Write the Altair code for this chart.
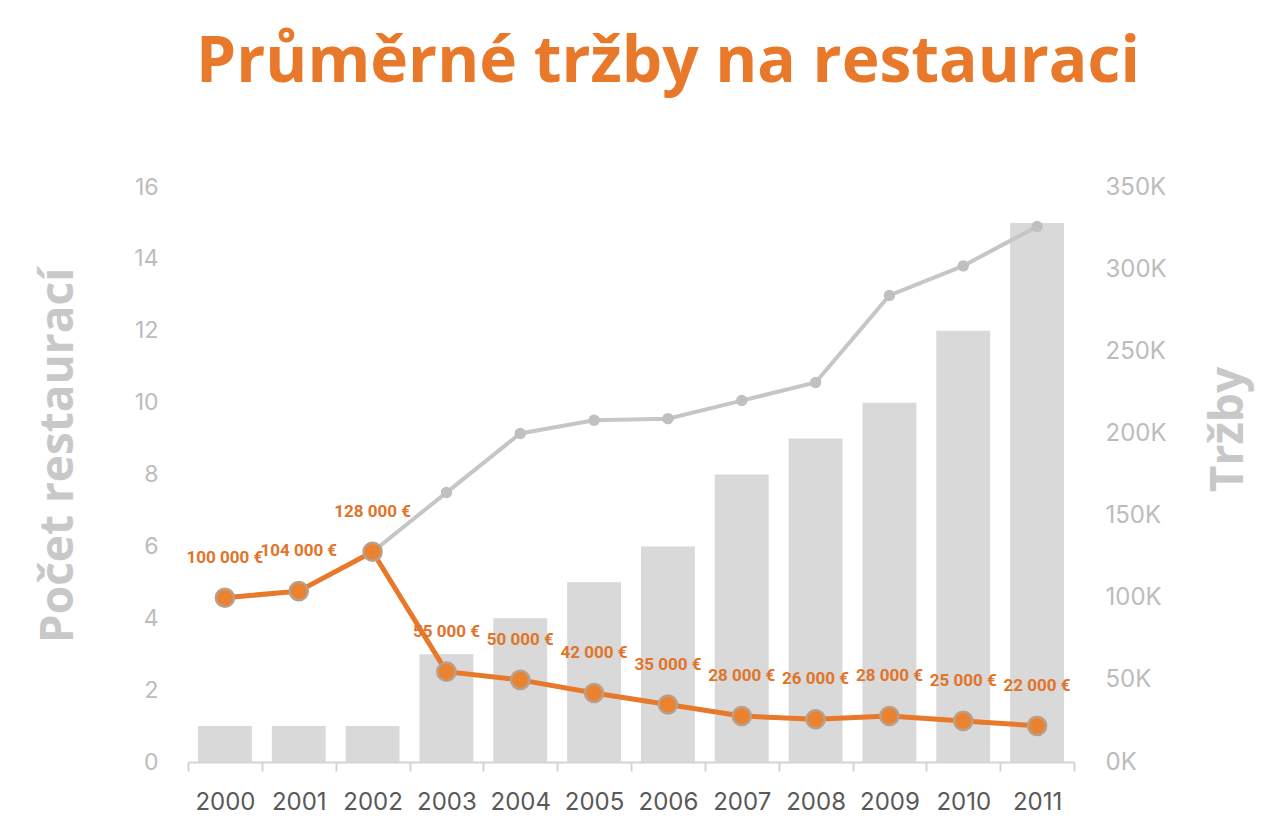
import altair as alt
import pandas as pd

years = ["2000", "2001", "2002", "2003", "2004", "2005", "2006", "2007", "2008", "2009", "2010", "2011"]
restaurants = [1, 1, 1, 3, 4, 5, 6, 8, 9, 10, 12, 15]
total_revenue = [100000, 104000, 128000, 164000, 200000, 208000, 209000, 220000, 231000, 284000, 302000, 326000]
avg_revenue = [100000, 104000, 128000, 55000, 50000, 42000, 35000, 28000, 26000, 28000, 25000, 22000]
avg_labels = [f"{v:,}".replace(",", " ") + " €" for v in avg_revenue]

df = pd.DataFrame({
    "year": years,
    "count": restaurants,
    "total": total_revenue,
    "avg": avg_revenue,
    "label": avg_labels,
})

ORANGE = "#E8782A"
AXIS_FONT = "Inter, 'Open Sans', sans-serif"

x = alt.X("year:O", title=None,
          scale=alt.Scale(paddingInner=0, paddingOuter=0),
          axis=alt.Axis(labelAngle=0, labelFontSize=24, labelColor="#595959", labelFont=AXIS_FONT,
                        labelPadding=19, domainColor="#d4d4d4", domainWidth=2,
                        tickColor="#d4d4d4", tickWidth=2, tickSize=9, tickBand="extent"))

base = alt.Chart(df)

bars = base.mark_bar(color="#d9d9d9", width=alt.RelativeBandSize(0.73)).encode(
    x=x,
    y=alt.Y("count:Q", title="Počet restaurací",
            scale=alt.Scale(domain=[0, 16], nice=False),
            axis=alt.Axis(orient="left", values=list(range(0, 17, 2)), grid=False, domain=False, ticks=False,
                          labelFontSize=23, labelColor="#bcbcbc", labelFont=AXIS_FONT, labelPadding=30,
                          titleFontSize=46, titleFontWeight="bold", titleColor="#c8c8c8",
                          titleFont="'Open Sans', sans-serif", titlePadding=51, titleY=268)),
)

rev_scale = alt.Scale(domain=[0, 350000], nice=False)
rev_axis = alt.Axis(orient="right", values=list(range(0, 350001, 50000)), grid=False, domain=False, ticks=False,
                    labelExpr="datum.value / 1000 + 'K'",
                    labelFontSize=24, labelColor="#bcbcbc", labelFont=AXIS_FONT, labelPadding=31,
                    titleFontSize=46, titleFontWeight="bold", titleColor="#c8c8c8",
                    titleFont="'Open Sans', sans-serif", titleAngle=270, titlePadding=86, titleY=242)
y_rev_total = alt.Y("total:Q", title="Tržby", scale=rev_scale, axis=rev_axis)
y_rev_avg = alt.Y("avg:Q", title="Tržby", scale=rev_scale, axis=rev_axis)

gray_line = base.mark_line(color="#c6c6c6", strokeWidth=4,
                           point=alt.OverlayMarkDef(color="#c0c0c0", size=130, filled=True, opacity=1)).encode(
    x=x, y=y_rev_total,
)

orange_line = base.mark_line(color=ORANGE, strokeWidth=5).encode(x=x, y=y_rev_avg)
orange_pts = base.mark_point(filled=True, fill="#EA822F", stroke="#b9a08c", strokeWidth=2.5, size=330, opacity=1).encode(
    x=x, y=y_rev_avg
)
orange_text = base.mark_text(color="#E0742A", fontSize=17, fontWeight="bold", dy=-40,
                             font="'Liberation Sans Narrow', 'Roboto', sans-serif").encode(
    x=x, y=y_rev_avg, text="label:N"
)

lines = alt.layer(gray_line, orange_line, orange_pts, orange_text)

chart = alt.layer(bars, lines).resolve_scale(y="independent").properties(
    width=886,
    height=575,
    title=alt.TitleParams("Průměrné tržby na restauraci", fontSize=64, fontWeight="bold",
                          font="'Open Sans', sans-serif", color=ORANGE, anchor="middle",
                          frame="group", dx=37, offset=80),
    autosize=alt.AutoSizeParams(type="none"),
    padding={"left": 180, "top": 179, "right": 190, "bottom": 60},
).configure_view(stroke=None)

chart.save("out.html", embed_options={"renderer": "svg", "actions": False})
